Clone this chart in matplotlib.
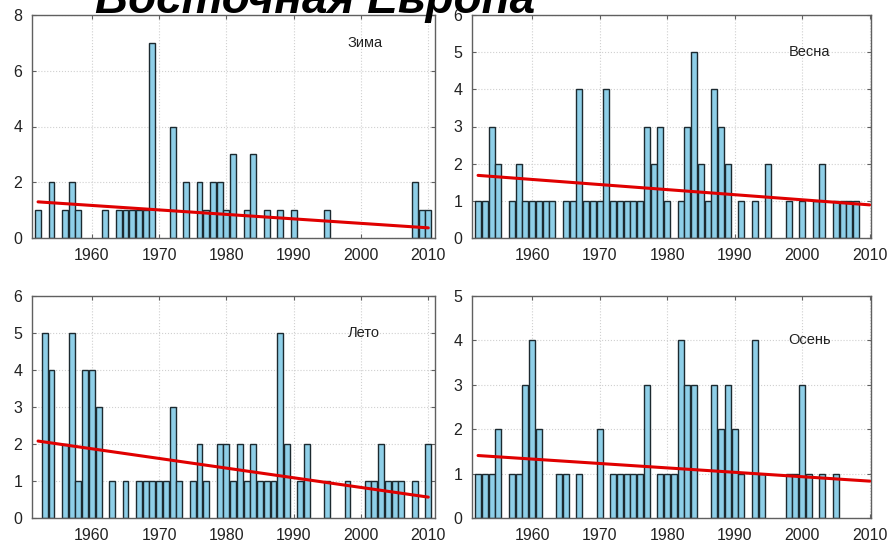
import numpy as np
import matplotlib
matplotlib.use("Agg")
import matplotlib.pyplot as plt

plt.rcParams['font.family'] = ['Liberation Sans', 'DejaVu Sans']

title = "Восточная Европа"

winter_years = [1952, 1954, 1956, 1957, 1958, 1962, 1964, 1965, 1966, 1967, 1968, 1969,
                1972, 1974, 1976, 1977, 1978, 1979, 1980, 1981, 1983, 1984, 1986, 1988,
                1990, 1995, 2008, 2009, 2010]
winter_counts = [1, 2, 1, 2, 1, 1, 1, 1, 1, 1, 1, 7,
                 4, 2, 2, 1, 2, 2, 1, 3, 1, 3, 1, 1,
                 1, 1, 2, 1, 1]

spring_years = [1952, 1953, 1954, 1955, 1957, 1958, 1959, 1960, 1961, 1962, 1963,
                1965, 1966, 1967, 1968, 1969, 1970, 1971, 1972, 1973, 1974, 1975, 1976,
                1977, 1978, 1979, 1980, 1982, 1983, 1984, 1985, 1986, 1987, 1988, 1989,
                1991, 1993, 1995, 1998, 2000, 2002, 2003, 2005, 2006, 2007, 2008]
spring_counts = [1, 1, 3, 2, 1, 2, 1, 1, 1, 1, 1,
                 1, 1, 4, 1, 1, 1, 4, 1, 1, 1, 1, 1,
                 3, 2, 3, 1, 1, 3, 5, 2, 1, 4, 3, 2,
                 1, 1, 2, 1, 1, 1, 2, 1, 1, 1, 1]

summer_years = [1953, 1954, 1956, 1957, 1958, 1959, 1960, 1961, 1963, 1965,
                1967, 1968, 1969, 1970, 1971, 1972, 1973, 1975, 1976, 1977,
                1979, 1980, 1981, 1982, 1983, 1984, 1985, 1986, 1987, 1988, 1989,
                1991, 1992, 1995, 1998, 2001, 2002, 2003, 2004, 2005, 2006, 2008, 2010]
summer_counts = [5, 4, 2, 5, 1, 4, 4, 3, 1, 1,
                 1, 1, 1, 1, 1, 3, 1, 1, 2, 1,
                 2, 2, 1, 2, 1, 2, 1, 1, 1, 5, 2,
                 1, 2, 1, 1, 1, 1, 2, 1, 1, 1, 1, 2]

autumn_years = [1952, 1953, 1954, 1955, 1957, 1958, 1959, 1960, 1961, 1964, 1965,
                1967, 1970, 1972, 1973, 1974, 1975, 1976, 1977, 1979, 1980, 1981,
                1982, 1983, 1984, 1987, 1988, 1989, 1990, 1991, 1993, 1994,
                1998, 1999, 2000, 2001, 2003, 2005]
autumn_counts = [1, 1, 1, 2, 1, 1, 3, 4, 2, 1, 1,
                 1, 2, 1, 1, 1, 1, 1, 3, 1, 1, 1,
                 4, 3, 3, 3, 2, 3, 2, 1, 4, 1,
                 1, 1, 3, 1, 1, 1]

season_labels = ["Зима", "Весна", "Лето", "Осень"]
y_max = [8, 6, 6, 5]
y_step = [2, 1, 1, 1]
x_ticks = [1960, 1970, 1980, 1990, 2000, 2010]
trend_start, trend_end = 1952, 2010

series = [(winter_years, winter_counts), (spring_years, spring_counts),
          (summer_years, summer_counts), (autumn_years, autumn_counts)]

W, H = 892, 542
fig = plt.figure(figsize=(W / 100, H / 100), dpi=100)

boxes = [(32, 435, 15, 238), (472, 871, 15, 238),
         (32, 435, 296, 518), (472, 871, 296, 518)]
xlims = [(1951.1, 2011.0), (1951.1, 2010.2), (1951.1, 2011.0), (1951.1, 2010.2)]

bar_color = '#8ecfe8'
edge_color = '#1c2a30'
spine_color = '#606060'

for i, ((yrs, cnts), (l, r, t, b)) in enumerate(zip(series, boxes)):
    ax = fig.add_axes([l / W, 1 - b / H, (r - l) / W, (b - t) / H])
    ax.bar(yrs, cnts, width=0.88, color=bar_color, edgecolor=edge_color,
           linewidth=1.0, zorder=2)
    all_years = np.arange(trend_start, trend_end + 1)
    full = np.zeros(len(all_years))
    for y, c in zip(yrs, cnts):
        full[y - trend_start] = c
    k, c0 = np.polyfit(all_years, full, 1)
    tx = np.array([trend_start, trend_end])
    ax.plot(tx, k * tx + c0, color='#e00000', lw=2.2, zorder=3,
            solid_capstyle='round')
    ax.set_xlim(*xlims[i])
    ax.set_ylim(0, y_max[i])
    ax.set_xticks(x_ticks)
    ax.set_yticks(np.arange(0, y_max[i] + 0.01, y_step[i]))
    ax.grid(True, color='#d0d0d0', linestyle=':', linewidth=0.8, zorder=0)
    ax.set_axisbelow(True)
    ax.tick_params(direction='in', length=3, width=0.8, colors=spine_color,
                   labelcolor='#222222', labelsize=11.5, top=True, right=True)
    ax.tick_params(axis='x', pad=7)
    ax.tick_params(axis='y', pad=7)
    for s in ax.spines.values():
        s.set_color(spine_color)
        s.set_linewidth(1.0)
    ax.text(1998, y_max[i] - 1, season_labels[i], fontsize=10.5,
            va='center', ha='left', color='#222222', zorder=4)

fig.text(95 / W, 1 - 13 / H, title, fontsize=33, fontweight='bold',
         fontstyle='italic', ha='left', va='baseline', color='black', zorder=10)

fig.savefig('out.png', dpi=100)
